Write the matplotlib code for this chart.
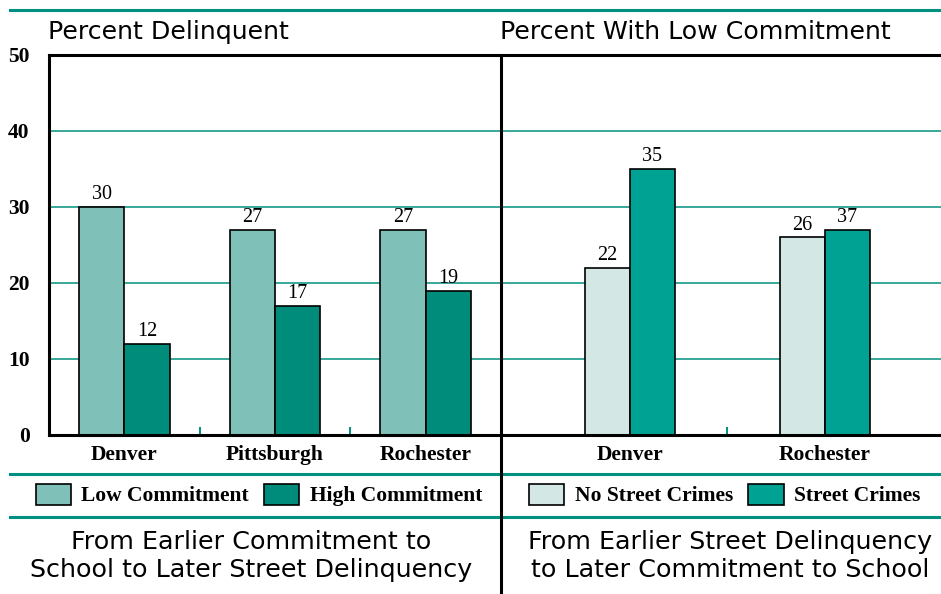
import matplotlib
matplotlib.use("Agg")
import matplotlib.pyplot as plt
from matplotlib.lines import Line2D
import numpy as np

# data
cities_left = ["Denver", "Pittsburgh", "Rochester"]
low_commit = [30, 27, 27]
high_commit = [12, 17, 19]

cities_right = ["Denver", "Rochester"]
no_street = [22, 26]
street = [35, 27]  # the source draws this bar at 27 but prints 37 on it
street_labels = ["35", "37"]

LOW_C = "#7fc1b8"
HIGH_C = "#008c7a"
NOSTREET_C = "#d3e8e4"
STREET_C = "#00a294"
TEAL = "#00917f"

SANS = ["DejaVu Sans"]
SERIF = ["Liberation Serif", "DejaVu Serif"]
BOLD_SIZE = 15.5

W, H = 941, 594
fig = plt.figure(figsize=(W / 100, H / 100), dpi=100)


def fx(px):
    return px / W


def fy(py):
    return 1 - py / H


def add_axes(x0, x1, y0, y1):
    return fig.add_axes([fx(x0), fy(y1), fx(x1) - fx(x0), fy(y0) - fy(y1)])


def style(ax, xlim, ticks, labels, between):
    ax.set_xlim(*xlim)
    ax.set_ylim(0, 50)
    ax.set_yticks([0, 10, 20, 30, 40, 50])
    ax.set_axisbelow(True)
    ax.yaxis.grid(True, color=TEAL, linewidth=1.1)
    ax.set_xticks(ticks)
    ax.set_xticklabels(labels, family=SERIF, fontweight="bold", fontsize=BOLD_SIZE)
    ax.set_xticks(between, minor=True)
    ax.tick_params(axis="x", which="major", length=0, pad=7)
    ax.tick_params(axis="x", which="minor", direction="in", length=6,
                   width=1.4, color=TEAL)
    ax.tick_params(axis="y", length=0, pad=14)
    ax.spines["right"].set_visible(False)
    for s in ("top", "bottom", "left"):
        ax.spines[s].set_linewidth(2.2)


# left panel
axl = add_axes(49, 501, 55, 435)
x = np.arange(len(cities_left))
bw = 0.3
b1 = axl.bar(x - bw / 2, low_commit, bw, color=LOW_C, edgecolor="black",
             linewidth=1.2, label="Low Commitment")
b2 = axl.bar(x + bw / 2, high_commit, bw, color=HIGH_C, edgecolor="black",
             linewidth=1.2, label="High Commitment")
for b in (b1, b2):
    axl.bar_label(b, padding=2, family=SERIF, fontsize=14.5)
style(axl, (-0.5, 2.5), x, cities_left, [0.5, 1.5])
for t in axl.get_yticklabels():
    t.set_family(SERIF)
    t.set_fontweight("bold")
    t.set_fontsize(BOLD_SIZE)

# right panel
axr = add_axes(501, 941, 55, 435)
xr = np.arange(len(cities_right))
bwr = 0.23
b3 = axr.bar(xr - bwr / 2, no_street, bwr, color=NOSTREET_C, edgecolor="black",
             linewidth=1.2, label="No Street Crimes")
b4 = axr.bar(xr + bwr / 2, street, bwr, color=STREET_C, edgecolor="black",
             linewidth=1.2, label="Street Crimes")
axr.bar_label(b3, padding=2, family=SERIF, fontsize=14.5)
axr.bar_label(b4, labels=street_labels, padding=2, family=SERIF, fontsize=14.5)
style(axr, (-0.66, 1.595), xr, cities_right, [0.5])
axr.spines["left"].set_visible(False)
axr.set_yticklabels([])

# panel titles
fig.text(fx(48), fy(32), "Percent Delinquent", family=SANS, fontsize=18.2,
         va="center", ha="left")
fig.text(fx(500), fy(32), "Percent With Low Commitment", family=SANS,
         fontsize=18.2, va="center", ha="left")

# rules and divider
for yy in (10, 474, 517):
    fig.add_artist(Line2D([fx(10), 1], [fy(yy), fy(yy)], color=TEAL,
                          linewidth=2.2))
fig.add_artist(Line2D([fx(501), fx(501)], [fy(56), 0], color="black",
                      linewidth=2.2))

# legends
leg_kw = dict(frameon=False, ncol=2, handlelength=1.63, handleheight=1.12,
              handletextpad=0.5, columnspacing=0.7, borderaxespad=0,
              prop=dict(family=SERIF, weight="bold", size=BOLD_SIZE))
fig.legend(handles=[b1, b2], loc="center", bbox_to_anchor=(fx(259), fy(495)),
           **leg_kw)
fig.legend(handles=[b3, b4], loc="center", bbox_to_anchor=(fx(725), fy(495)),
           **leg_kw)

# bottom captions
fig.text(fx(251), fy(556), "From Earlier Commitment to\nSchool to Later Street Delinquency",
         family=SANS, fontsize=18.3, ha="center", va="center", linespacing=1.2)
fig.text(fx(730), fy(556), "From Earlier Street Delinquency\nto Later Commitment to School",
         family=SANS, fontsize=18.3, ha="center", va="center", linespacing=1.2)

fig.savefig("out.png", dpi=100)
